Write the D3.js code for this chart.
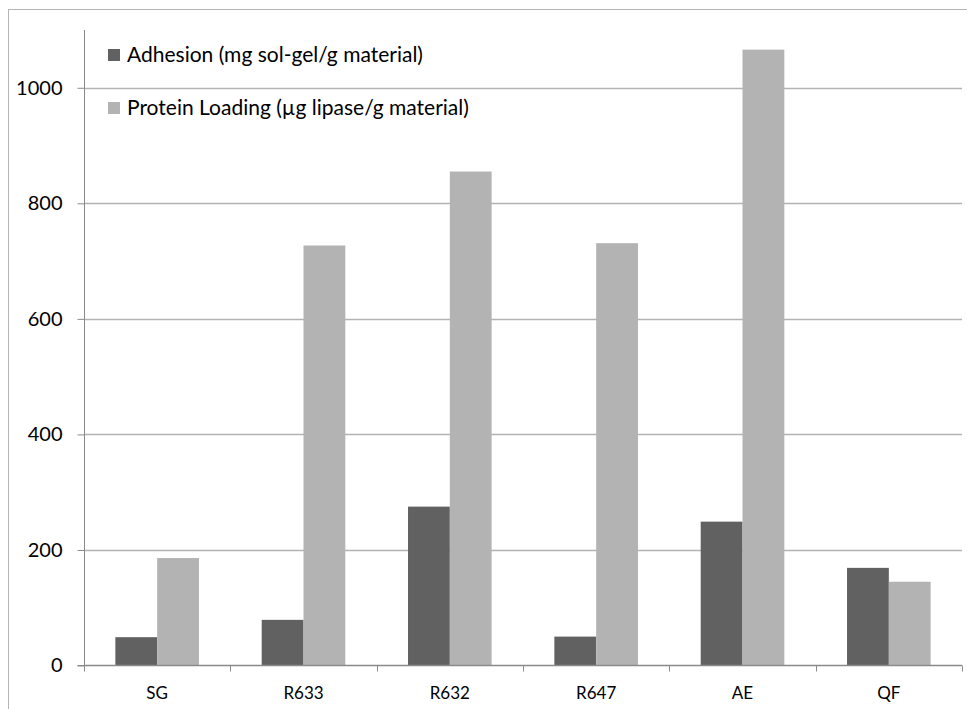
<!DOCTYPE html>
<html>
<head>
<meta charset="utf-8">
<script src="https://cdn.jsdelivr.net/npm/d3@7"></script>
<style>
  html, body { margin: 0; padding: 0; background: #fff; }
  svg { display: block; font-family: Lato, "Open Sans", sans-serif; }
</style>
</head>
<body>
<svg id="chart" width="967" height="709"></svg>
<script>
// Sample materials along the x axis
const categories = ["SG", "R633", "R632", "R647", "AE", "QF"];
// Series names as shown in the legend
const seriesNames = ["Adhesion (mg sol-gel/g material)", "Protein Loading (µg lipase/g material)"];
// Adhesion, mg sol-gel per g material
const adhesion = [49, 79, 275, 50, 249, 169];
// Protein loading, µg lipase per g material
const proteinLoading = [186, 727, 855, 731, 1066, 145];
// Value axis ticks
const yTicks = [0, 200, 400, 600, 800, 1000];
const seriesColors = ["#616161", "#b3b3b3"];

const svg = d3.select("#chart");
const margin = { left: 84, right: 5, top: 30, bottom: 43.5 };
const W = 967, H = 709;

// Outer chart border (extends past the visible frame on right and bottom)
svg.append("rect")
  .attr("x", 8.5).attr("y", 9.5)
  .attr("width", 1000).attr("height", 1000)
  .attr("fill", "none").attr("stroke", "#b5b5b5").attr("stroke-width", 1);

const x0 = d3.scaleBand()
  .domain(categories)
  .range([margin.left, 962])
  .paddingInner(0).paddingOuter(0);

// gap width 150% of a bar: 2 bars + 1.5 bar gap per category
const barW = x0.bandwidth() / 3.5;
const x1 = d3.scaleBand()
  .domain(d3.range(seriesNames.length))
  .range([barW * 0.75, barW * 2.75])
  .padding(0);

const y = d3.scaleLinear()
  .domain([0, 1100])
  .range([H - margin.bottom, margin.top]);

// Gridlines
svg.append("g")
  .selectAll("line")
  .data(yTicks.filter(d => d > 0))
  .join("line")
  .attr("x1", margin.left).attr("x2", 962)
  .attr("y1", d => Math.round(y(d)) + 0.5).attr("y2", d => Math.round(y(d)) + 0.5)
  .attr("stroke", "#b3b3b3").attr("stroke-width", 1.3);

// Bars
const data = categories.map((c, i) => ({ cat: c, vals: [adhesion[i], proteinLoading[i]] }));
const groups = svg.append("g")
  .selectAll("g")
  .data(data)
  .join("g")
  .attr("transform", d => `translate(${x0(d.cat)},0)`);

groups.selectAll("rect")
  .data(d => d.vals.map((v, s) => ({ v, s })))
  .join("rect")
  .attr("x", d => x1(d.s))
  .attr("width", x1.bandwidth())
  .attr("y", d => y(d.v))
  .attr("height", d => y(0) - y(d.v))
  .attr("fill", d => seriesColors[d.s]);

// Y axis
const yAxis = d3.axisLeft(y)
  .tickValues(yTicks)
  .tickSize(7)
  .tickPadding(15)
  .tickFormat(d3.format("d"));
const gy = svg.append("g")
  .attr("transform", `translate(${margin.left + 0.5},0)`)
  .call(yAxis);
gy.select(".domain").attr("stroke", "#8a8a8a").attr("d", `M-7,${y(0)}H0V${margin.top}`);
gy.selectAll(".tick line").attr("stroke", "#8a8a8a");
gy.selectAll(".tick text")
  .attr("font-family", "Lato, 'Open Sans', sans-serif")
  .attr("font-size", 20).attr("fill", "#000");

// X axis with ticks at category boundaries
const xAxisY = y(0);
const gx = svg.append("g");
gx.append("line")
  .attr("x1", margin.left).attr("x2", 962)
  .attr("y1", xAxisY).attr("y2", xAxisY)
  .attr("stroke", "#8a8a8a").attr("stroke-width", 1.5);
gx.selectAll("line.tk")
  .data(categories.map(c => x0(c)).concat([x0.range()[1]]))
  .join("line")
  .attr("class", "tk")
  .attr("x1", d => Math.round(d) + 0.5).attr("x2", d => Math.round(d) + 0.5)
  .attr("y1", xAxisY).attr("y2", xAxisY + 6)
  .attr("stroke", "#8a8a8a");
gx.selectAll("text")
  .data(categories)
  .join("text")
  .attr("x", d => x0(d) + x0.bandwidth() / 2)
  .attr("y", 699)
  .attr("text-anchor", "middle")
  .attr("font-size", 17)
  .attr("fill", "#000")
  .text(d => d);

// Legend
const legend = svg.append("g");
const legY = [62, 115];
seriesNames.forEach((name, i) => {
  legend.append("rect")
    .attr("x", 108).attr("y", legY[i] - 13)
    .attr("width", 12).attr("height", 12)
    .attr("fill", seriesColors[i]);
  legend.append("text")
    .attr("x", 127).attr("y", legY[i])
    .attr("font-size", 21)
    .attr("fill", "#000")
    .text(name);
});
</script>
</body>
</html>
